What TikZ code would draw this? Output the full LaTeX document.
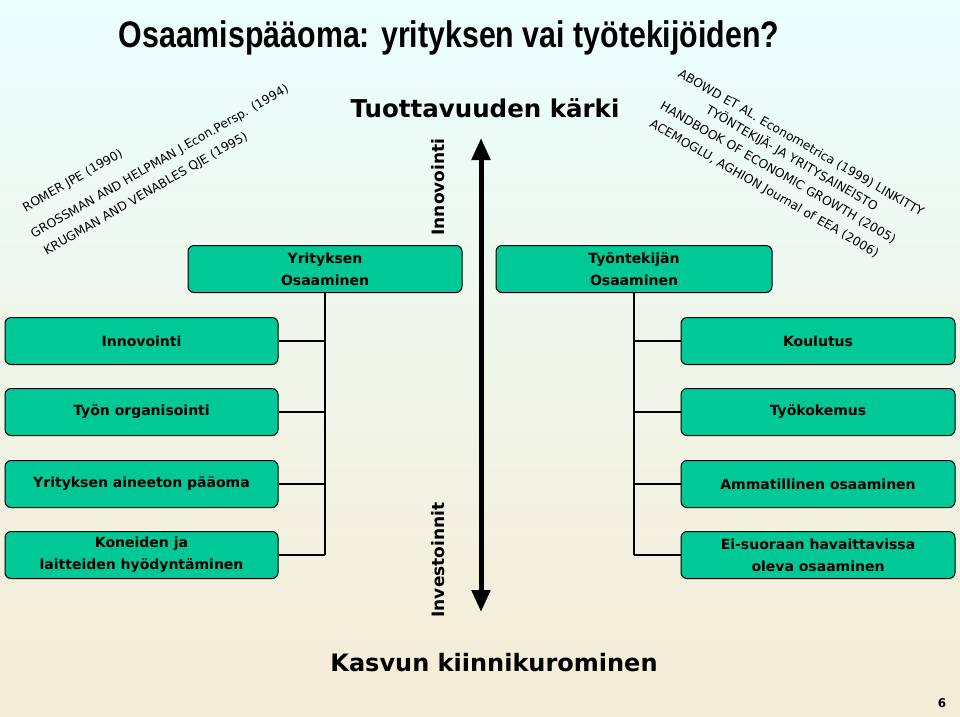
\documentclass[tikz,border=0pt]{standalone}
\usepackage{fontspec}
\setmainfont{DejaVu Sans}
\newfontfamily\titlefont{Liberation Sans}
\usetikzlibrary{arrows.meta}
\definecolor{boxgreen}{HTML}{00C896}
\tikzset{
  gbox/.style={draw=black,line width=1pt,fill=boxgreen,rounded corners=6pt,minimum height=47pt,align=center,font=\fontsize{14}{22}\selectfont\bfseries,inner sep=0pt},
  ref/.style={font=\fontsize{12.3}{13}\selectfont,inner sep=0pt},
  conn/.style={line width=2pt,black},
  vlab/.style={rotate=90,font=\fontsize{17}{20}\selectfont\bfseries,inner sep=0pt}
}
\begin{document}
\begin{tikzpicture}[x=1pt,y=-1pt]
\useasboundingbox (0,0) rectangle (960,716);
\shade[top color=white!92!cyan,bottom color=white!94!yellow!85!brown] (0,0) rectangle (960,716);
\node[font=\titlefont\fontsize{37}{40}\selectfont\bfseries,xscale=0.82] (title) at (449,38) {Osaamispääoma: yrityksen vai työtekijöiden?};
\node[font=\fontsize{24.5}{30}\selectfont\bfseries] (top) at (485,108) {Tuottavuuden kärki};
\node[font=\fontsize{24}{28}\selectfont\bfseries] (bot) at (494,663) {Kasvun kiinnikurominen};
\node[font=\fontsize{12}{14}\selectfont\bfseries] (pg) at (942,703) {6};
\node[ref,rotate=30] (r1) at (73,181) {ROMER JPE (1990)};
\node[ref,rotate=30] (r2) at (160,162) {GROSSMAN AND HELPMAN J.Econ.Persp. (1994)};
\node[ref,rotate=30] (r3) at (146,194) {KRUGMAN AND VENABLES QJE (1995)};
\node[ref,rotate=-30] (r4) at (801,143) {ABOWD ET AL. Econometrica (1999) LINKITTY};
\node[ref,rotate=-30] (r5) at (792,158) {TYÖNTEKIJÄ- JA YRITYSAINEISTO};
\node[ref,rotate=-30] (r6) at (778,173) {HANDBOOK OF ECONOMIC GROWTH (2005)};
\node[ref,rotate=-30] (r7) at (764,189) {ACEMOGLU, AGHION Journal of EEA (2006)};
\node[gbox,minimum width=274pt] (yo) at (325,269) {Yrityksen\\Osaaminen};
\node[gbox,minimum width=276pt] (to) at (634,269) {Työntekijän\\Osaaminen};
\foreach \n/\y/\t in {l1/341/Innovointi,l2/412/Työn organisointi,l3/484/Yrityksen aineeton pääoma,l4/555/{Koneiden ja\\laitteiden hyödyntäminen}}
  \node[gbox,minimum width=273pt] (\n) at (141.5,\y) {\t};
\foreach \n/\y/\t in {k1/341/Koulutus,k2/412/Työkokemus,k3/484/Ammatillinen osaaminen,k4/555/{Ei-suoraan havaittavissa\\oleva osaaminen}}
  \node[gbox,minimum width=274pt] (\n) at (818,\y) {\t};
\coordinate (lv) at (325,555);
\coordinate (rv) at (634,555);
\draw[conn] (yo.south) -- (lv);
\draw[conn] (to.south) -- (rv);
\foreach \n in {l1,l2,l3,l4} \draw[conn] (\n.east) -- (\n.east -| lv);
\foreach \n in {k1,k2,k3,k4} \draw[conn] (\n.west) -- (\n.west -| rv);
\coordinate (at) at (481,138);
\coordinate (ab) at (481,612);
\draw[line width=5pt,{Triangle[length=22pt,width=18pt]}-{Triangle[length=22pt,width=18pt]}] (ab) -- (at);
\node[vlab] (inn) at (438,187) {Innovointi};
\node[vlab] (inv) at (438,560) {Investoinnit};
\end{tikzpicture}
\end{document}
